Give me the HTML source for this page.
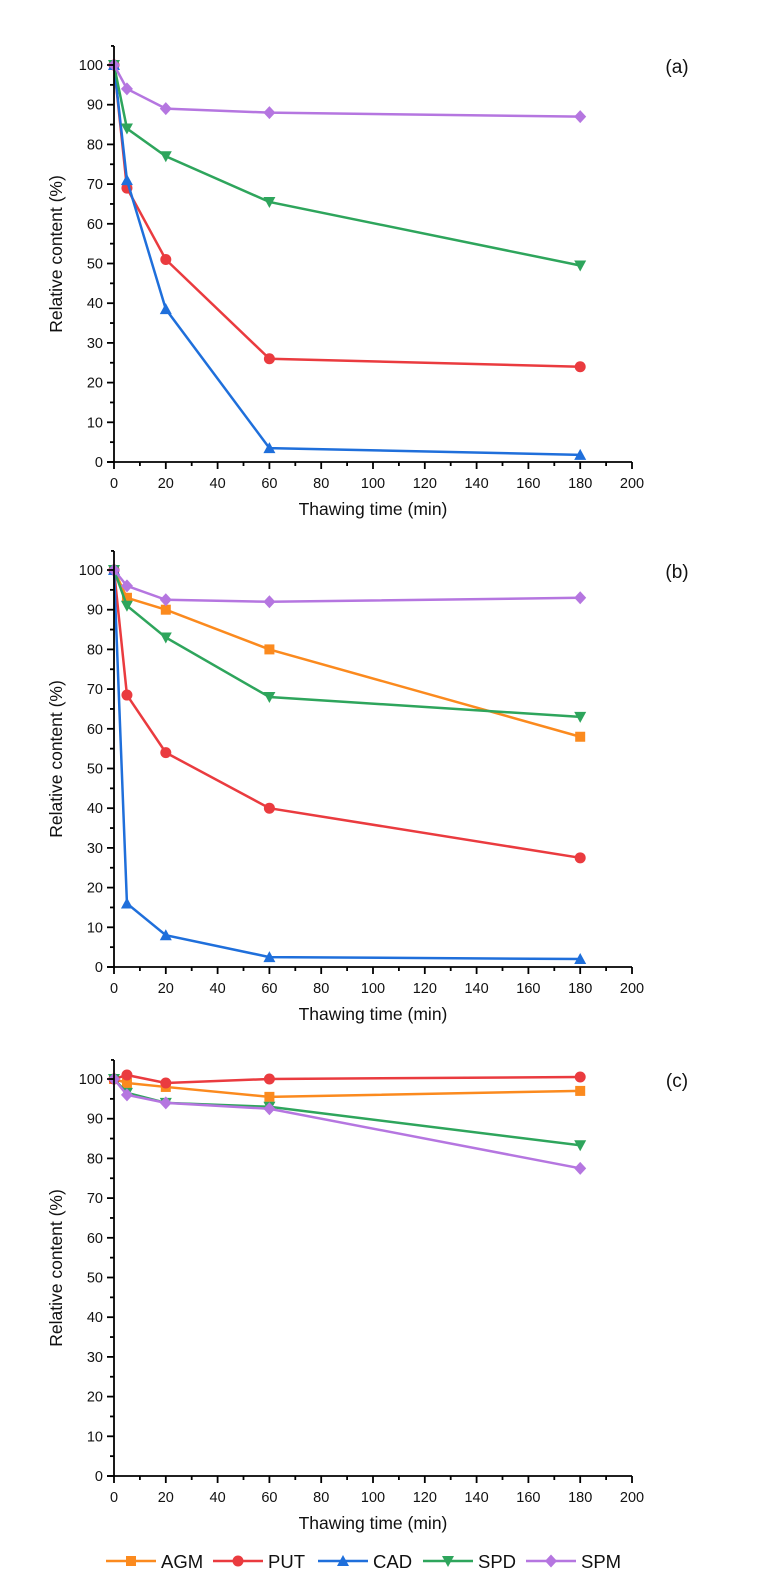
<!DOCTYPE html>
<html><head><meta charset="utf-8">
<style>body{margin:0;background:#fff}svg{display:block;font-family:"Liberation Sans",sans-serif}</style>
</head><body>
<svg id="fig" width="761" height="1583" viewBox="0 0 761 1583"></svg>
<script>
const times = [0, 5, 20, 60, 180];
const seriesNames = ["AGM", "PUT", "CAD", "SPD", "SPM"];
const seriesColors = ["#fb8a1e", "#ea3b3f", "#1f6fdb", "#2ea55c", "#b576e0"];
const aAGM = null;
const aPUT = [100, 69, 51, 26, 24];
const aCAD = [100, 71, 38.5, 3.5, 1.8];
const aSPD = [100, 84, 77, 65.5, 49.5];
const aSPM = [100, 94, 89, 88, 87];
const bAGM = [100, 93, 90, 80, 58];
const bPUT = [100, 68.5, 54, 40, 27.5];
const bCAD = [100, 16, 8, 2.5, 2];
const bSPD = [100, 91, 83, 68, 63];
const bSPM = [100, 96, 92.5, 92, 93];
const cAGM = [100, 99, 98, 95.5, 97];
const cPUT = [100, 101, 99, 100, 100.5];
const cCAD = null;
const cSPD = [100, 96.5, 94, 93, 83.3];
const cSPM = [100, 96, 94, 92.5, 77.5];
const yTicks = [0,10,20,30,40,50,60,70,80,90,100];
const xTicks = [0,20,40,60,80,100,120,140,160,180,200];

const NS = "http://www.w3.org/2000/svg";
const svg = document.getElementById("fig");
function mk(tag, attrs, parent){const e=document.createElementNS(NS,tag);for(const k in attrs)e.setAttribute(k,attrs[k]);(parent||svg).appendChild(e);return e;}

const panels = [
 {label:"(a)", y0:462, series:[aAGM,aPUT,aCAD,aSPD,aSPM]},
 {label:"(b)", y0:967, series:[bAGM,bPUT,bCAD,bSPD,bSPM]},
 {label:"(c)", y0:1476, series:[cAGM,cPUT,cCAD,cSPD,cSPM]}
];
const X0=114, XS=(632-114)/200, YS=3.97;

function marker(g, kind, cx, cy, color){
  let m;
  if(kind===0) m=mk("rect",{x:cx-5,y:cy-5,width:10,height:10,fill:color},g);
  else if(kind===1) m=mk("circle",{cx:cx,cy:cy,r:5.5,fill:color},g);
  else if(kind===2) m=mk("polygon",{points:`${cx},${cy-6} ${cx+6},${cy+5} ${cx-6},${cy+5}`,fill:color},g);
  else if(kind===3) m=mk("polygon",{points:`${cx},${cy+6} ${cx+6},${cy-5} ${cx-6},${cy-5}`,fill:color},g);
  else m=mk("polygon",{points:`${cx},${cy-6.5} ${cx+6},${cy} ${cx},${cy+6.5} ${cx-6},${cy}`,fill:color},g);
  
  
}

panels.forEach((p,pi)=>{
  const g=mk("g",{});
  
  
  const xf=v=>X0+v*XS, yf=v=>p.y0-v*YS;
  const topY=yf(104.8);
  // series
  p.series.forEach((vals,si)=>{
    if(!vals) return;
    const sg=mk("g",{},g);
    
    
    const pts=vals.map((v,i)=>xf(times[i])+","+yf(v)).join(" ");
    const pl=mk("polyline",{points:pts,fill:"none",stroke:seriesColors[si],"stroke-width":2.5},sg);
    
    
    vals.forEach((v,i)=>marker(sg,si,xf(times[i]),yf(v),seriesColors[si]));
  });
  // axes
  const ax=mk("g",{stroke:"#000","stroke-width":1.8},g);
  
  
  mk("line",{x1:X0,y1:topY,x2:X0,y2:p.y0},ax);
  mk("line",{x1:X0-3,y1:topY,x2:X0,y2:topY},ax);
  mk("line",{x1:X0-7,y1:p.y0,x2:xf(200),y2:p.y0},ax);
  yTicks.forEach(v=>{
    mk("line",{x1:X0-7,y1:yf(v),x2:X0,y2:yf(v)},ax);
    if(v<100) mk("line",{x1:X0-4,y1:yf(v+5),x2:X0,y2:yf(v+5)},ax);
    const t=mk("text",{x:X0-11,y:yf(v)+5,"text-anchor":"end","font-size":14.5,fill:"#111",stroke:"none"},g);
    t.textContent=v;
    
    
  });
  xTicks.forEach(v=>{
    mk("line",{x1:xf(v),y1:p.y0,x2:xf(v),y2:p.y0+7},ax);
    if(v<200) mk("line",{x1:xf(v+10),y1:p.y0,x2:xf(v+10),y2:p.y0+4},ax);
    const t=mk("text",{x:xf(v),y:p.y0+26,"text-anchor":"middle","font-size":14.5,fill:"#111"},g);
    t.textContent=v;
    
    
  });
  const xt=mk("text",{x:xf(100),y:p.y0+53,"text-anchor":"middle","font-size":17.5,fill:"#111"},g);
  xt.textContent="Thawing time (min)";
  
  
  const cy=(topY+p.y0)/2;
  const yt=mk("text",{x:0,y:0,transform:`translate(62,${cy}) rotate(-90)`,"text-anchor":"middle","font-size":17.5,fill:"#111"},g);
  yt.textContent="Relative content (%)";
  
  
  const pl=mk("text",{x:677,y:yf(100)+8,"text-anchor":"middle","font-size":19,fill:"#111"},g);
  pl.textContent=p.label;
  
  
});

// legend
const legendLineX=[106,213,318,423,526];
const lg=mk("g",{});


seriesNames.forEach((n,i)=>{
  const e=mk("g",{},lg);
  
  
  const x=legendLineX[i], y=1561;
  mk("line",{x1:x,y1:y,x2:x+50,y2:y,stroke:seriesColors[i],"stroke-width":2.5},e);
  marker(e,i,x+25,y,seriesColors[i]);
  const t=mk("text",{x:x+55,y:y+7,"font-size":18.5,fill:"#111"},e);
  t.textContent=n;
});
</script>
</body></html>
